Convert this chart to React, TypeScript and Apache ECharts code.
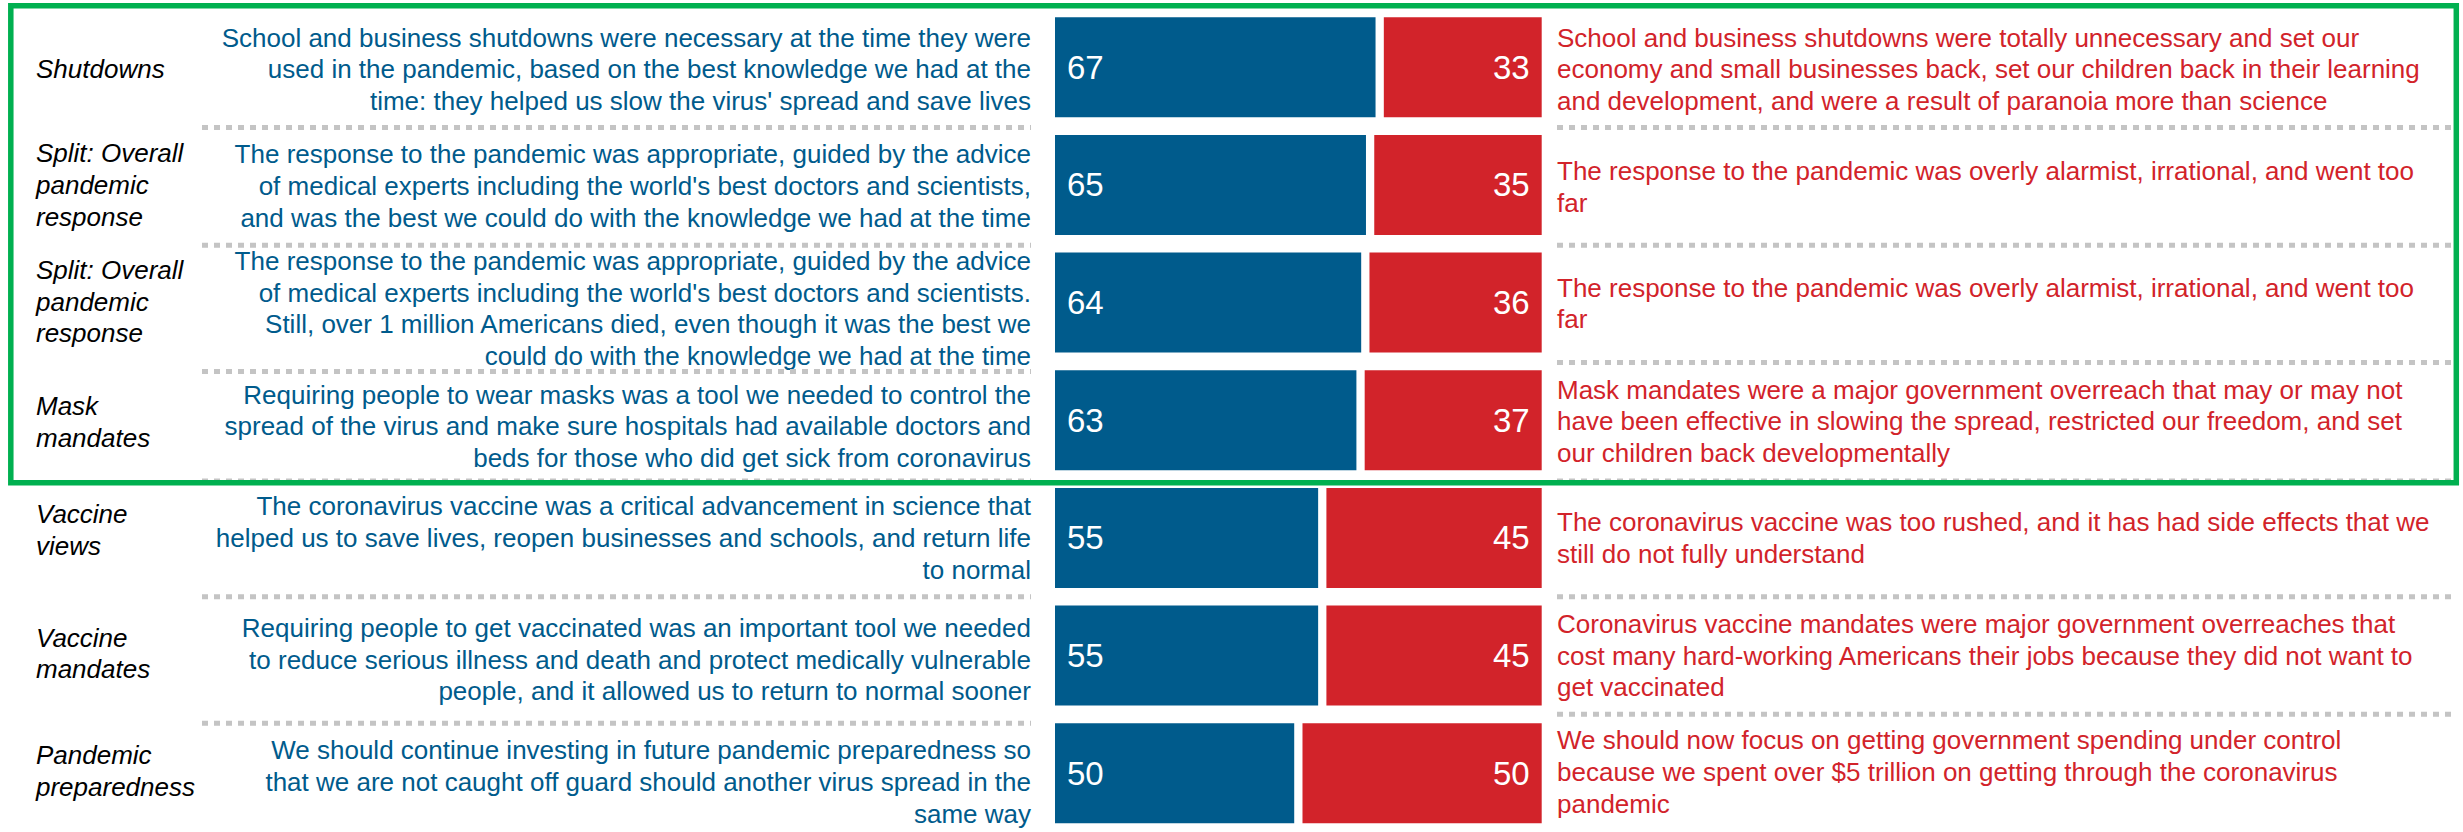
import React, { useEffect, useRef } from "react";
import * as echarts from "echarts";

const categories = [
  "Shutdowns",
  "Split: Overall\npandemic\nresponse",
  "Split: Overall\npandemic\nresponse",
  "Mask\nmandates",
  "Vaccine\nviews",
  "Vaccine\nmandates",
  "Pandemic\npreparedness",
];

const agreeValues = [67, 65, 64, 63, 55, 55, 50];
const disagreeValues = [33, 35, 36, 37, 45, 45, 50];

const agreeStatements = [
  "School and business shutdowns were necessary at the time they were\nused in the pandemic, based on the best knowledge we had at the\ntime: they helped us slow the virus' spread and save lives",
  "The response to the pandemic was appropriate, guided by the advice\nof medical experts including the world's best doctors and scientists,\nand was the best we could do with the knowledge we had at the time",
  "The response to the pandemic was appropriate, guided by the advice\nof medical experts including the world's best doctors and scientists.\nStill, over 1 million Americans died, even though it was the best we\ncould do with the knowledge we had at the time",
  "Requiring people to wear masks was a tool we needed to control the\nspread of the virus and make sure hospitals had available doctors and\nbeds for those who did get sick from coronavirus",
  "The coronavirus vaccine was a critical advancement in science that\nhelped us to save lives, reopen businesses and schools, and return life\nto normal",
  "Requiring people to get vaccinated was an important tool we needed\nto reduce serious illness and death and protect medically vulnerable\npeople, and it allowed us to return to normal sooner",
  "We should continue investing in future pandemic preparedness so\nthat we are not caught off guard should another virus spread in the\nsame way",
];

const disagreeStatements = [
  "School and business shutdowns were totally unnecessary and set our\neconomy and small businesses back, set our children back in their learning\nand development, and were a result of paranoia more than science",
  "The response to the pandemic was overly alarmist, irrational, and went too\nfar",
  "The response to the pandemic was overly alarmist, irrational, and went too\nfar",
  "Mask mandates were a major government overreach that may or may not\nhave been effective in slowing the spread, restricted our freedom, and set\nour children back developmentally",
  "The coronavirus vaccine was too rushed, and it has had side effects that we\nstill do not fully understand",
  "Coronavirus vaccine mandates were major government overreaches that\ncost many hard-working Americans their jobs because they did not want to\nget vaccinated",
  "We should now focus on getting government spending under control\nbecause we spent over $5 trillion on getting through the coronavirus\npandemic",
];

// small layout nudges (px) per row
const catNudge = [2, 0, -1, 2, -8, -2, -2];
const agreeNudge = [2, 1, 6, 6, 0, 4, 9];
const disagreeNudge = [2, 2, 1, 1, 0, 0, -1];
const leftSepNudge = [1.5, 1.5, 10, 2, 0, 9];
const rightSepNudge = [1.5, 1.5, 1, 2, 0, 0];

export default function App() {
  const ref = useRef<HTMLDivElement>(null);

  useEffect(() => {
    document.body.style.margin = "0";
    const chart = echarts.init(ref.current as HTMLDivElement, null, { renderer: "svg" });
    const FONT = "'Liberation Sans', Arial, sans-serif";
    const BLUE = "#005B8C";
    const RED = "#D2232A";
    const GAP_UNITS = 1.73;
    const axisMax = 100 + GAP_UNITS;

    chart.setOption({
      animation: false,
      grid: { left: 1055, top: 8.45, width: 486.7, height: 833.7 },
      xAxis: [
        { type: "value", min: 0, max: axisMax, show: false },
        { type: "value", min: 0, max: axisMax, inverse: true, show: false },
      ],
      yAxis: { type: "category", data: categories, inverse: true, show: false },
      series: [
        {
          type: "bar",
          name: "Agree",
          xAxisIndex: 0,
          data: agreeValues,
          barWidth: 100,
          itemStyle: { color: BLUE },
          label: {
            show: true,
            position: "insideLeft",
            distance: 12,
            color: "#fff",
            fontSize: 33,
            fontFamily: FONT,
          },
        },
        {
          type: "bar",
          name: "Disagree",
          xAxisIndex: 1,
          data: disagreeValues,
          barWidth: 100,
          barGap: "-100%",
          itemStyle: { color: RED },
          label: {
            show: true,
            position: "insideRight",
            distance: 12,
            color: "#fff",
            fontSize: 33,
            fontFamily: FONT,
          },
        },
      ],
    });

    const rowY = categories.map((_, i) => chart.convertToPixel({ yAxisIndex: 0 }, i) as number);
    const band = rowY.length > 1 ? rowY[1] - rowY[0] : 119;
    const LH = 31.7;

    const graphic: any[] = [];
    categories.forEach((c, i) => {
      graphic.push({
        type: "text",
        x: 36,
        y: rowY[i] + catNudge[i],
        style: {
          text: c,
          fill: "#000",
          fontSize: 26,
          fontStyle: "italic",
          fontFamily: FONT,
          align: "left",
          textAlign: "left",
          verticalAlign: "middle",
          textVerticalAlign: "middle",
          lineHeight: LH,
        },
      });
      graphic.push({
        type: "text",
        x: 1031,
        y: rowY[i] + agreeNudge[i],
        style: {
          text: agreeStatements[i],
          fill: BLUE,
          fontSize: 26,
          fontFamily: FONT,
          align: "right",
          textAlign: "right",
          verticalAlign: "middle",
          textVerticalAlign: "middle",
          lineHeight: LH,
        },
      });
      graphic.push({
        type: "text",
        x: 1557,
        y: rowY[i] + disagreeNudge[i],
        style: {
          text: disagreeStatements[i],
          fill: RED,
          fontSize: 26,
          fontFamily: FONT,
          align: "left",
          textAlign: "left",
          verticalAlign: "middle",
          textVerticalAlign: "middle",
          lineHeight: LH,
        },
      });
    });

    for (let i = 0; i < categories.length - 1; i++) {
      const boundary = rowY[i] + band / 2;
      graphic.push({
        type: "line",
        shape: { x1: 202, y1: boundary + leftSepNudge[i], x2: 1031, y2: boundary + leftSepNudge[i] },
        style: { stroke: "#C4C4C4", lineWidth: 5, lineDash: [6, 6] },
      });
      graphic.push({
        type: "line",
        shape: { x1: 1557, y1: boundary + rightSepNudge[i], x2: 2452, y2: boundary + rightSepNudge[i] },
        style: { stroke: "#C4C4C4", lineWidth: 5, lineDash: [6, 6] },
      });
    }

    graphic.push({
      type: "rect",
      shape: { x: 10.8, y: 5.8, width: 2445.5, height: 477 },
      style: { fill: "none", stroke: "#00B050", lineWidth: 5.5 },
      z: 10,
    });

    chart.setOption({ graphic });

    return () => chart.dispose();
  }, []);

  return <div ref={ref} style={{ width: 2463, height: 832 }} />;
}
